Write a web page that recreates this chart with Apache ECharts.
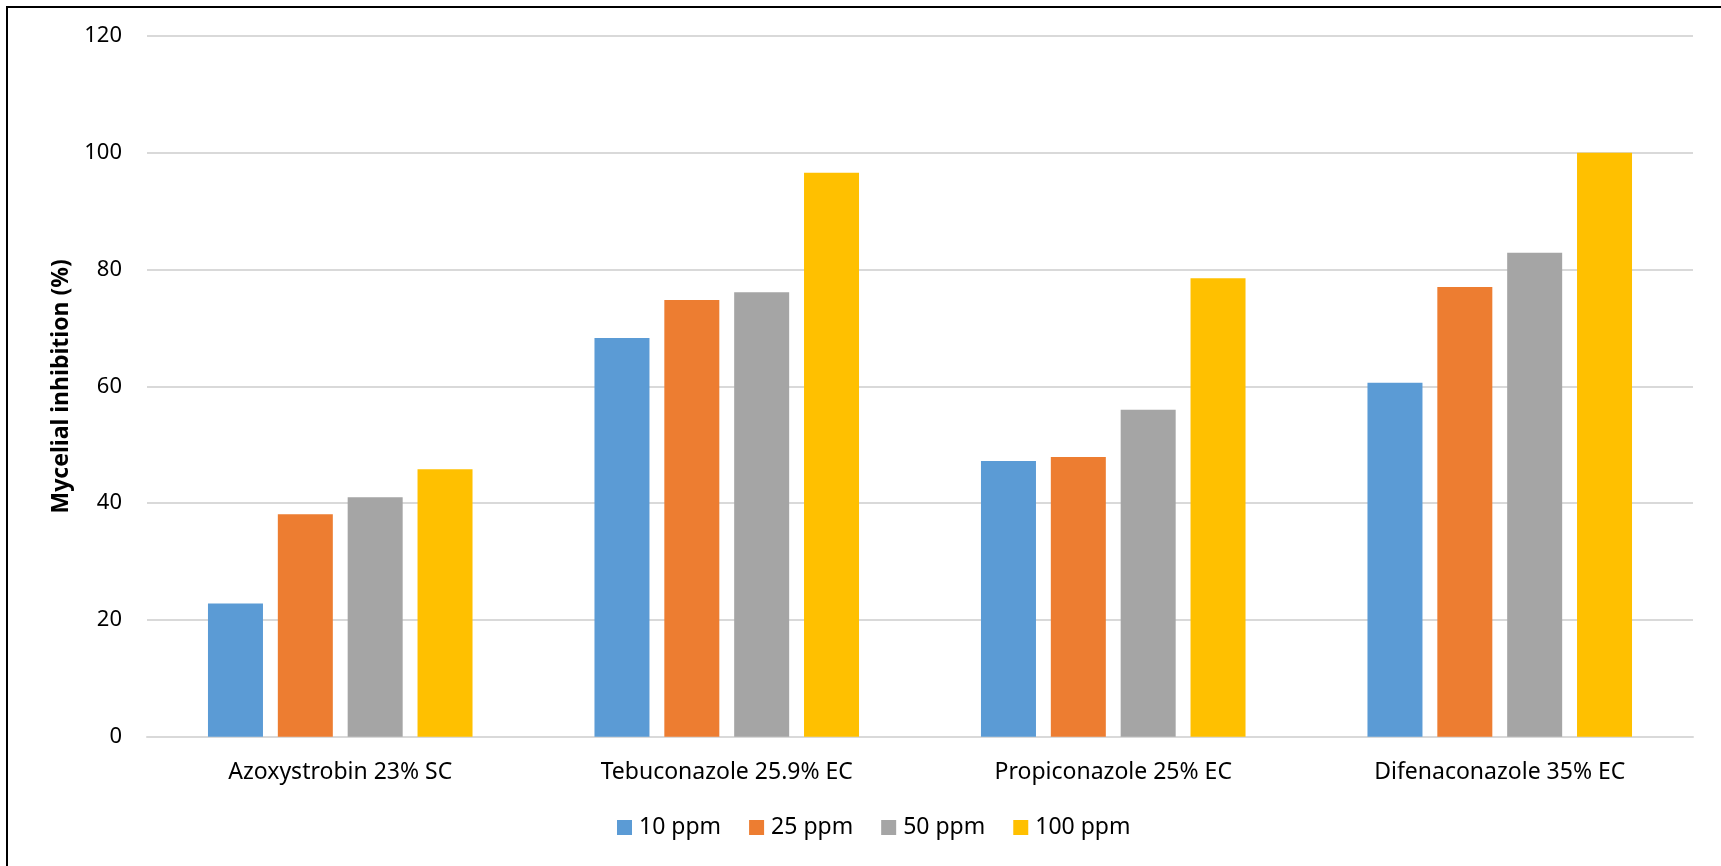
<!DOCTYPE html>
<html>
<head>
<meta charset="utf-8">
<title>Mycelial inhibition</title>
<script src="https://cdn.jsdelivr.net/npm/echarts@6/dist/echarts.min.js"></script>
<style>
  html, body { margin: 0; padding: 0; background: #ffffff; overflow: hidden; }
  #chart { position: absolute; left: 0; top: 0; width: 1721px; height: 866px; }
  /* frame around the chart area: only its top and left edges fall inside the page */
  #frame {
    position: absolute; left: 6px; top: 6px; width: 1730px; height: 880px;
    border-top: 2px solid #000; border-left: 2px solid #000; pointer-events: none;
  }
</style>
</head>
<body>
<div id="chart"></div>
<div id="frame"></div>
<script>
const categories = [
  'Azoxystrobin 23% SC',
  'Tebuconazole 25.9% EC',
  'Propiconazole 25% EC',
  'Difenaconazole 35% EC'
];
const seriesNames = ['10 ppm', '25 ppm', '50 ppm', '100 ppm'];
const ppm10 = [22.8, 68.3, 47.2, 60.6];
const ppm25 = [38.1, 74.8, 47.9, 77.0];
const ppm50 = [41.0, 76.1, 56.0, 82.9];
const ppm100 = [45.8, 96.6, 78.5, 100.0];
const yTicks = [0, 20, 40, 60, 80, 100, 120];
const colors = ['#5b9bd5', '#ed7d31', '#a5a5a5', '#ffc000'];

const seriesValues = [ppm10, ppm25, ppm50, ppm100];
const font = 'Noto Sans';

const chart = echarts.init(document.getElementById('chart'), null, { renderer: 'canvas' });
chart.setOption({
  backgroundColor: '#ffffff',
  animation: false,
  color: colors,
  textStyle: { fontFamily: font, color: '#000' },
  grid: { left: 147, right: 28, top: 36, bottom: 129.3, containLabel: false },
  legend: {
    data: seriesNames,
    top: 816,
    left: 617,
    padding: 0,
    icon: 'rect',
    itemWidth: 15,
    itemHeight: 15,
    itemGap: 28,
    textStyle: { fontFamily: font, fontSize: 23, color: '#000', padding: [0, 0, 0, 2] }
  },
  xAxis: {
    type: 'category',
    data: categories,
    axisLine: { show: true, lineStyle: { color: '#d9d9d9', width: 2 } },
    axisTick: { show: false },
    axisLabel: { fontFamily: font, fontSize: 23, color: '#000', margin: 24 }
  },
  yAxis: {
    type: 'value',
    min: yTicks[0],
    max: yTicks[yTicks.length - 1],
    interval: yTicks[1] - yTicks[0],
    name: 'Mycelial inhibition (%)',
    nameLocation: 'middle',
    nameGap: 73,
    nameTextStyle: { fontFamily: font, fontSize: 23, fontWeight: 'bold', color: '#000' },
    axisLine: { show: false },
    axisTick: { show: false },
    axisLabel: { fontFamily: font, fontSize: 22, color: '#000', margin: 25 },
    splitLine: { show: true, lineStyle: { color: '#d9d9d9', width: 2 } }
  },
  series: seriesNames.map((name, i) => ({
    name: name,
    type: 'bar',
    data: seriesValues[i],
    barWidth: 55,
    barGap: '27%',
    itemStyle: { color: colors[i] }
  }))
});
</script>
</body>
</html>
